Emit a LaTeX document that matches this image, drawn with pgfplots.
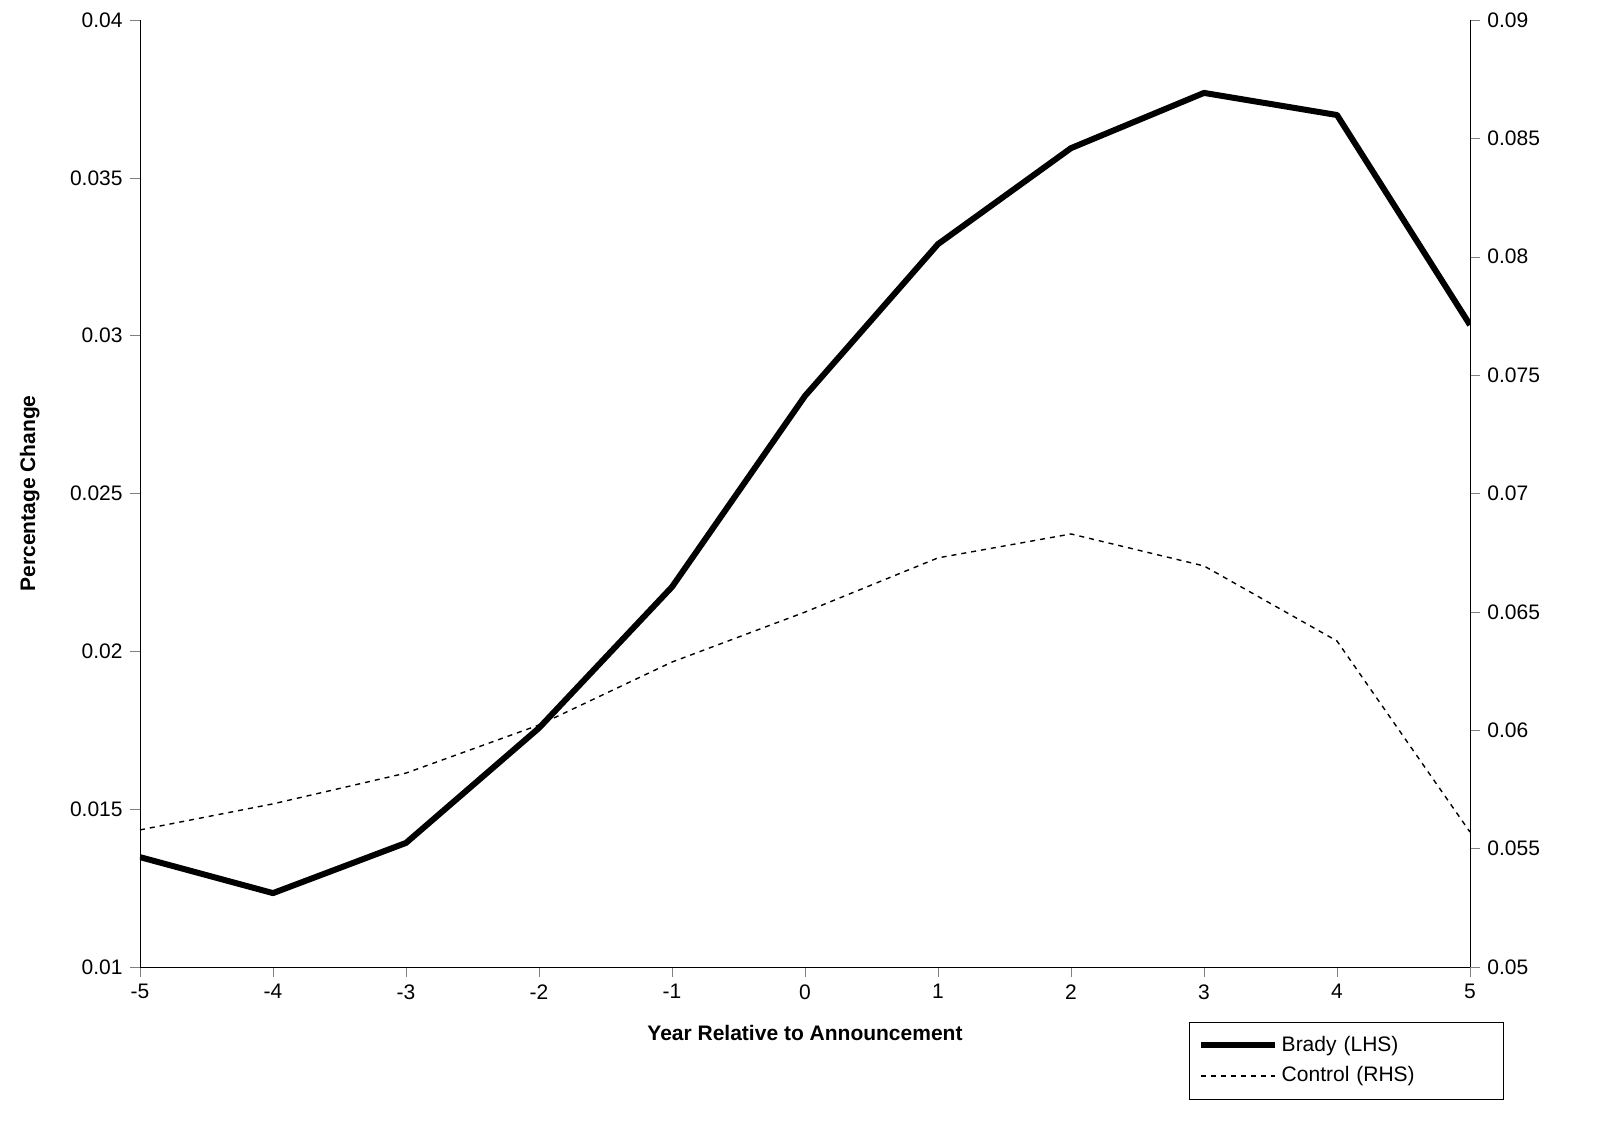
\documentclass[border=0pt]{standalone}
\usepackage{pgfplots}
\pgfplotsset{compat=1.18}
\usepackage{fontspec}
\setmainfont{Liberation Sans}
\begin{document}
\fontsize{10.5}{12}\selectfont
\begin{tikzpicture}
\pgfplotsset{every axis/.style={scale only axis,width=665pt,height=473.5pt,at={(0,0)},anchor=south west,
 xmin=-5,xmax=5,tick align=outside,major tick length=5pt,scaled ticks=false,
 /pgf/number format/assume math mode=true,
 tick label style={font=\fontsize{10.5}{12}\selectfont},
 yticklabel style={/pgf/number format/fixed,/pgf/number format/precision=3}}}
\begin{axis}[axis x line*=bottom,axis y line*=left,ymin=0.01,ymax=0.04,
 ytick={0.01,0.015,...,0.0401},xtick={-5,...,5},
 xlabel={\bfseries Year Relative to Announcement},ylabel={\bfseries Percentage Change},
 xlabel style={yshift=-6pt},ylabel style={yshift=8pt}]
\addplot[black,line width=3pt,line join=round] coordinates {(-5,0.01348)(-4,0.01234)(-3,0.01393)(-2,0.01757)(-1,0.02204)(0,0.02809)(1,0.0329)(2,0.03594)(3,0.03769)(4,0.03699)(5,0.03034)};
\end{axis}
\begin{axis}[axis y line*=right,axis x line=none,ymin=0.05,ymax=0.09,
 ytick={0.05,0.055,...,0.0901},
 legend style={at={(0.789,-0.058)},anchor=north west,draw=black,rounded corners=0pt,
   font=\fontsize{10.5}{12}\selectfont,legend cell align=left,inner xsep=4pt,inner ysep=5pt,
   text width=105pt,row sep=2pt},
 legend image code/.code={\draw[#1] (0cm,0cm) -- (1.3cm,0cm);}]
\addlegendimage{black,line width=3pt}
\addlegendentry{Brady (LHS)}
\addplot[black,dashed,dash pattern=on 2.5pt off 2.5pt,line width=0.7pt] coordinates {(-5,0.05579)(-4,0.05689)(-3,0.05819)(-2,0.06022)(-1,0.06288)(0,0.06499)(1,0.06728)(2,0.06829)(3,0.06694)(4,0.06377)(5,0.0557)};
\addlegendentry{Control (RHS)}
\end{axis}
\pgfresetboundingbox
\useasboundingbox (-70pt,-77.5pt) rectangle (739.5pt,483.5pt);
\end{tikzpicture}
\end{document}
